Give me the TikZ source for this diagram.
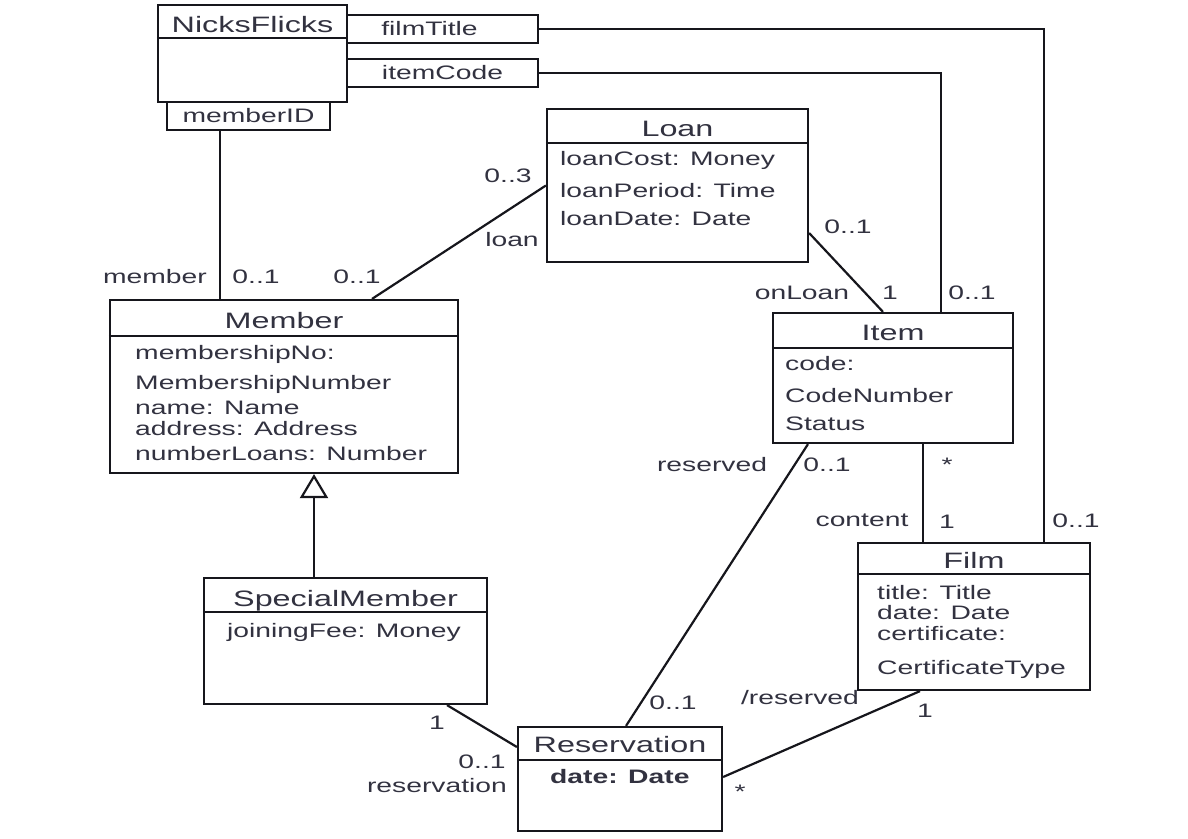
\documentclass[tikz,border=0pt]{standalone}
\usepackage{fontspec}
\setmainfont{Liberation Sans}[FakeStretch=1.45]
\usetikzlibrary{arrows.meta}

\definecolor{umlText}{RGB}{50,50,64}
\definecolor{umlLine}{RGB}{22,22,28}

\tikzset{
  classbox/.style={draw=umlLine, line width=2.2pt, inner sep=0pt, fill=white},
  qualbox/.style={draw=umlLine, line width=2.2pt, inner sep=0pt, minimum height=28pt,
    text=umlText, font=\fontsize{19.5}{22}\selectfont},
  title/.style={anchor=base, inner sep=0pt, text=umlText, font=\fontsize{22.3}{26}\selectfont},
  attr/.style={anchor=base west, inner sep=0pt, text=umlText, font=\fontsize{19.5}{22}\selectfont},
  mult/.style={anchor=base, inner sep=0pt, text=umlText, font=\fontsize{19.5}{22}\selectfont},
  assoc/.style={draw=umlLine, line width=2.2pt}
}

\begin{document}
\begin{tikzpicture}[x=1pt,y=-1pt]
\useasboundingbox (0,0) rectangle (1188,838);

%classes
\node[classbox, minimum width=189pt, minimum height=97pt] (nicks) at (252.5,53.5) {};
\node[qualbox, minimum width=191pt] (filmtitle) at (442.5,29) {filmTitle\hspace*{26pt}};
\node[qualbox, minimum width=191pt] (itemcode) at (442.5,73) {itemCode};
\node[qualbox, minimum width=163pt] (memberid) at (248.5,116) {memberID};
\node[classbox, minimum width=261pt, minimum height=153pt] (loan) at (677.5,185.5) {};
\node[classbox, minimum width=348pt, minimum height=173pt] (member) at (284,386.5) {};
\node[classbox, minimum width=240pt, minimum height=130pt] (item) at (893,378) {};
\node[classbox, minimum width=232pt, minimum height=147pt] (film) at (974,616.5) {};
\node[classbox, minimum width=283pt, minimum height=126pt] (special) at (345.5,641) {};
\node[classbox, minimum width=204pt, minimum height=104pt] (reservation) at (620,779) {};

%header lines
\foreach \n/\y in {nicks/38, loan/143, member/336, item/348, film/574, special/612, reservation/760}
  \draw[umlLine, line width=2.2pt] (\n.west |- 0,\y) -- (\n.east |- 0,\y);

%titles
\node[title] (nicksT) at (252.5,32) {NicksFlicks};
\node[title] (loanT) at (677.5,136) {Loan};
\node[title] (memberT) at (284,328) {Member};
\node[title] (itemT) at (893,340) {Item};
\node[title] (filmT) at (974,568) {Film};
\node[title] (specialT) at (345.5,606) {SpecialMember};
\node[title] (reservationT) at (620,752) {Reservation};

%attributes
\foreach \t/\y [count=\i] in {loanCost: Money/158, loanPeriod: Time/190, loanDate: Date/218}
  \node[attr] (loanA\i) at (560,\y+7) {\t};
\foreach \t/\y [count=\i] in {membershipNo:/352, MembershipNumber/382, name: Name/407,
    address: Address/428, numberLoans: Number/453}
  \node[attr] (memberA\i) at (135,\y+7) {\t};
\foreach \t/\y [count=\i] in {code:/363, CodeNumber/395, Status/423}
  \node[attr] (itemA\i) at (785,\y+7) {\t};
\foreach \t/\y [count=\i] in {title: Title/592, date: Date/612, certificate:/633, CertificateType/667}
  \node[attr] (filmA\i) at (877,\y+7) {\t};
\node[attr] (specialA1) at (227,637) {joiningFee: Money};
\node[attr, font=\fontsize{19.5}{22}\selectfont\bfseries] (reservationA1) at (550,783) {date: Date};

%connectors
\draw[assoc] (memberid.south -| 220,0) -- (member.north -| 220,0);
\draw[assoc] (member.north -| 372,0) -- (loan.west);
\draw[assoc] (loan.east |- 0,233) -- (item.north -| 883,0);
\draw[assoc] (item.north -| 941,0) |- (itemcode.east);
\draw[assoc] (film.north -| 1044,0) |- (filmtitle.east);
\draw[assoc] (item.south -| 923,0) -- (film.north -| 923,0);
\draw[assoc] (item.south -| 808,0) -- (reservation.north -| 626,0);
\draw[assoc] (film.south -| 920,0) -- (reservation.east |- 0,777);
\draw[assoc] (special.south -| 447,0) -- (reservation.west |- 0,747);
\draw[assoc, -{Triangle[length=24pt, width=28pt, fill=white]}] (special.north -| 314,0) -- (member.south -| 314,0);

%roles and multiplicities
\node[mult] (memberR) at (155,283) {member};
\node[mult] (memberM1) at (256,283) {0..1};
\node[mult] (memberM2) at (357,283) {0..1};
\node[mult] (loanM1) at (508,182) {0..3};
\node[mult] (loanR) at (512,246) {loan};
\node[mult] (loanM2) at (848,233) {0..1};
\node[mult] (onloanR) at (802,299) {onLoan};
\node[mult] (itemM1) at (890,299) {1};
\node[mult] (itemM2) at (972,299) {0..1};
\node[mult] (reservedR) at (712,471) {reserved};
\node[mult] (itemM3) at (827,471) {0..1};
\node[mult] (itemM4) at (947,471) {*};
\node[mult] (contentR) at (862,526) {content};
\node[mult] (filmM1) at (947,528) {1};
\node[mult] (filmM2) at (1076,527) {0..1};
\node[mult] (resM1) at (673,709) {0..1};
\node[mult] (derivedR) at (800,704) {/reserved};
\node[mult] (filmM3) at (925,717) {1};
\node[mult] (specialM1) at (437,729) {1};
\node[mult] (resM2) at (482,768) {0..1};
\node[mult] (reservationR) at (437,792) {reservation};
\node[mult] (resM3) at (740,798) {*};
\end{tikzpicture}
\end{document}
